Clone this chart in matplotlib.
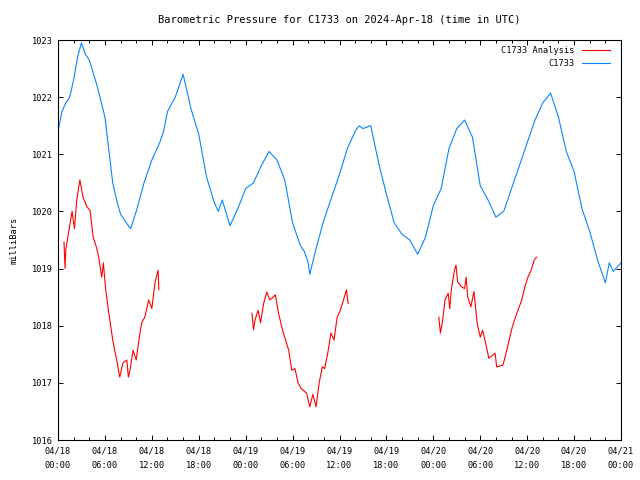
import numpy as np
import matplotlib
matplotlib.use("Agg")
import matplotlib.pyplot as plt
from matplotlib.ticker import MultipleLocator, FixedLocator

# station C1733, hours since 2024-04-18 00:00 UTC
obs_hours = [0, 0.5, 1, 1.5, 2, 2.5, 3, 3.5, 4, 5, 6, 7, 7.5, 8, 9, 9.3, 10, 11, 11.5, 12,
             13, 13.5, 14, 15, 16, 16.5, 17, 18, 19, 20, 20.5, 21, 22, 23, 24, 25, 26, 27,
             28, 29, 30, 31, 31.5, 32, 32.2, 33, 34, 35, 36, 37, 38, 38.5, 39, 40, 41, 42,
             43, 44, 45, 46, 47, 48, 49, 50, 51, 52, 53, 54, 55, 56, 57, 58, 59, 60, 61,
             62, 63, 64, 65, 66, 67, 68, 69, 70, 70.5, 71, 72]
obs_mb = [1021.4, 1021.75, 1021.9, 1022.0, 1022.3, 1022.7, 1022.95, 1022.75, 1022.65, 1022.2,
          1021.65, 1020.5, 1020.2, 1019.95, 1019.75, 1019.7, 1020.0, 1020.5, 1020.7, 1020.9,
          1021.2, 1021.4, 1021.75, 1022.0, 1022.4, 1022.1, 1021.8, 1021.35, 1020.6, 1020.15,
          1020.0, 1020.2, 1019.75, 1020.05, 1020.4, 1020.5, 1020.8, 1021.05, 1020.9, 1020.55,
          1019.8, 1019.4, 1019.3, 1019.1, 1018.9, 1019.35, 1019.85, 1020.25, 1020.65, 1021.1,
          1021.4, 1021.5, 1021.45, 1021.5, 1020.85, 1020.3, 1019.8, 1019.6, 1019.5, 1019.25,
          1019.55, 1020.1, 1020.4, 1021.1, 1021.45, 1021.6, 1021.3, 1020.45, 1020.2, 1019.9,
          1020.0, 1020.4, 1020.8, 1021.2, 1021.6, 1021.9, 1022.07, 1021.65, 1021.05, 1020.7,
          1020.05, 1019.65, 1019.15, 1018.75, 1019.1, 1018.95, 1019.1]

# analysis, three separate runs
ana1_hours = [0.77, 0.9, 1.0, 1.4, 1.8, 2.1, 2.4, 2.6, 2.8, 3.2, 3.7, 4.1, 4.5, 4.9, 5.2, 5.6,
              5.8, 6.1, 6.5, 7.0, 7.5, 7.9, 8.3, 8.8, 9.0, 9.2, 9.6, 10.0, 10.4, 10.7, 11.1,
              11.6, 12.0, 12.4, 12.8, 12.9]
ana1_mb = [1019.46, 1019.0, 1019.33, 1019.67, 1020.0, 1019.7, 1020.2, 1020.38, 1020.55,
           1020.25, 1020.08, 1020.02, 1019.55, 1019.38, 1019.2, 1018.85, 1019.1, 1018.63,
           1018.22, 1017.75, 1017.4, 1017.1, 1017.35, 1017.4, 1017.1, 1017.22, 1017.57,
           1017.4, 1017.8, 1018.05, 1018.15, 1018.45, 1018.3, 1018.75, 1018.97, 1018.63]
ana2_hours = [24.8, 25.0, 25.2, 25.6, 25.9, 26.3, 26.7, 27.1, 27.8, 28.2, 28.7, 29.1, 29.5,
              29.9, 30.3, 30.7, 31.1, 31.8, 32.2, 32.6, 33.0, 33.4, 33.8, 34.1, 34.5, 34.9,
              35.3, 35.7, 36.1, 36.5, 36.9, 37.1]
ana2_mb = [1018.22, 1017.93, 1018.1, 1018.27, 1018.05, 1018.39, 1018.59, 1018.45, 1018.54,
           1018.22, 1017.93, 1017.75, 1017.57, 1017.22, 1017.25, 1017.0, 1016.9, 1016.82,
           1016.58, 1016.8, 1016.58, 1017.0, 1017.28, 1017.25, 1017.52, 1017.87, 1017.75,
           1018.15, 1018.27, 1018.45, 1018.63, 1018.39]
ana3_hours = [48.7, 48.9, 49.2, 49.5, 49.9, 50.1, 50.3, 50.7, 50.9, 51.1, 51.6, 52.0, 52.2,
              52.4, 52.8, 53.2, 53.6, 54.0, 54.3, 54.7, 55.1, 55.9, 56.1, 56.9, 57.3, 57.7,
              58.1, 58.5, 58.9, 59.3, 59.7, 60.1, 60.5, 60.9, 61.2]
ana3_mb = [1018.15, 1017.87, 1018.1, 1018.45, 1018.57, 1018.3, 1018.63, 1018.97, 1019.06,
           1018.77, 1018.68, 1018.65, 1018.85, 1018.5, 1018.33, 1018.6, 1018.05, 1017.8,
           1017.92, 1017.69, 1017.43, 1017.52, 1017.28, 1017.31, 1017.52, 1017.75, 1017.98,
           1018.15, 1018.3, 1018.45, 1018.68, 1018.85, 1018.97, 1019.15, 1019.2]

tick_hours = [0, 6, 12, 18, 24, 30, 36, 42, 48, 54, 60, 66, 72]
tick_labels = ["04/18\n00:00", "04/18\n06:00", "04/18\n12:00", "04/18\n18:00",
               "04/19\n00:00", "04/19\n06:00", "04/19\n12:00", "04/19\n18:00",
               "04/20\n00:00", "04/20\n06:00", "04/20\n12:00", "04/20\n18:00",
               "04/21\n00:00"]

plt.rcParams['font.family'] = ['DejaVu Sans Mono']
plt.rcParams['font.size'] = 6.2

fig = plt.figure(figsize=(6.4, 4.8), dpi=100)
ax = fig.add_axes([58 / 640, 1 - 440 / 480, 563 / 640, 400 / 480])

ana_x = ana1_hours + [np.nan] + ana2_hours + [np.nan] + ana3_hours
ana_y = ana1_mb + [np.nan] + ana2_mb + [np.nan] + ana3_mb
ax.plot(ana_x, ana_y, color='#ff0000', lw=0.8, label='C1733 Analysis')
ax.plot(obs_hours, obs_mb, color='#0a85ff', lw=0.8, label='C1733')

ax.set_xlim(0, 72)
ax.set_ylim(1016, 1023)
ax.xaxis.set_major_locator(FixedLocator(tick_hours))
ax.xaxis.set_minor_locator(MultipleLocator(2))
ax.set_xticklabels(tick_labels, linespacing=1.7)
ax.yaxis.set_major_locator(MultipleLocator(1))
ax.tick_params(which='both', direction='in', top=True, right=True, width=0.7)
ax.tick_params(which='major', length=3.5, pad=5)
ax.tick_params(which='minor', length=2)
ax.tick_params(axis='y', pad=4)
for s in ax.spines.values():
    s.set_linewidth(0.8)

ax.set_title('Barometric Pressure for C1733 on 2024-Apr-18 (time in UTC)', pad=12)
ax.set_ylabel('milliBars', labelpad=9)
ax.legend(loc='upper right', frameon=False, markerfirst=False, handlelength=3.3,
          handletextpad=0.8, labelspacing=0.45, borderaxespad=0.2,
          bbox_to_anchor=(0.99, 0.997))

fig.savefig('out.png', dpi=100)
